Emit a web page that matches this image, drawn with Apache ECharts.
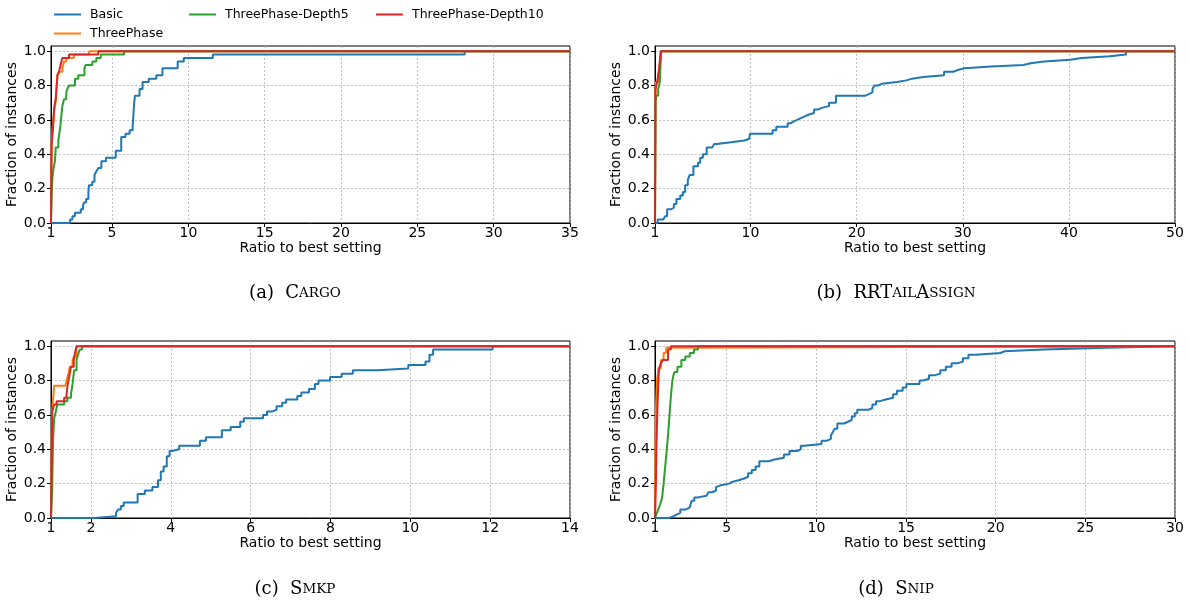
<!DOCTYPE html>
<html>
<head>
<meta charset="utf-8">
<script src="https://cdn.jsdelivr.net/npm/echarts@6/dist/echarts.min.js"></script>
<style>
  html, body { margin: 0; padding: 0; background: #fff; }
  #chart { width: 1189px; height: 603px; }
</style>
</head>
<body>
<div id="chart"></div>
<script>
// series names and colours (matplotlib tab10)
const seriesNames = ['Basic', 'ThreePhase', 'ThreePhase-Depth5', 'ThreePhase-Depth10'];
const seriesColors = ['#1f77b4', '#ff7f0e', '#2ca02c', '#d62728'];

// tick values of each panel
const cargoTicks = [1, 5, 10, 15, 20, 25, 30, 35];
const rrtailTicks = [1, 10, 20, 30, 40, 50];
const smkpTicks = [1, 2, 4, 6, 8, 10, 12, 14];
const snipTicks = [1, 5, 10, 15, 20, 25, 30];
const yTicks = [0, 0.2, 0.4, 0.6, 0.8, 1.0];

// (a) Cargo  -- [ratio, fraction] step points
const cargoBasic = [[1, 0], [2.25, 0.02], [2.4, 0.04], [2.57, 0.06], [2.95, 0.08], [3.1, 0.1], [3.16, 0.12], [3.3, 0.14], [3.45, 0.18], [3.49, 0.22], [3.7, 0.24], [3.85, 0.28], [3.97, 0.3], [4.1, 0.32], [4.3, 0.36], [4.6, 0.38], [5.24, 0.42], [5.6, 0.5], [5.88, 0.52], [6.15, 0.54], [6.35, 0.56], [6.45, 0.7], [6.5, 0.74], [6.8, 0.78], [7.0, 0.82], [7.4, 0.84], [7.9, 0.86], [8.3, 0.9], [9.3, 0.94], [9.7, 0.96], [11.6, 0.98], [28.1, 1.0], [35, 1.0]];
const cargoThree = [[1, 0], [1.03, 0.45], [1.1, 0.55], [1.2, 0.65], [1.3, 0.7], [1.42, 0.86], [1.55, 0.88], [1.75, 0.9], [1.85, 0.94], [2.0, 0.96], [2.5, 0.98], [3.5, 1.0], [35, 1.0]];
const cargoD5 = [[1, 0], [1.05, 0.18], [1.09, 0.26], [1.17, 0.32], [1.26, 0.36], [1.31, 0.44], [1.48, 0.48], [1.61, 0.56], [1.74, 0.68], [1.85, 0.72], [2.0, 0.76], [2.07, 0.78], [2.18, 0.8], [2.57, 0.84], [2.79, 0.86], [3.19, 0.9], [3.27, 0.92], [3.71, 0.94], [3.97, 0.96], [4.26, 0.98], [5.79, 1.0], [35, 1.0]];
const cargoD10 = [[1, 0], [1.04, 0.45], [1.13, 0.55], [1.22, 0.68], [1.31, 0.72], [1.42, 0.86], [1.52, 0.88], [1.63, 0.92], [1.74, 0.96], [2.18, 0.98], [4.1, 1.0], [35, 1.0]];

// (b) RRTailAssign
const rrtailBasic = [[1, 0], [1.25, 0.02], [1.78, 0.03], [1.95, 0.04], [2.14, 0.08], [2.49, 0.09], [2.78, 0.11], [3.02, 0.14], [3.38, 0.16], [3.63, 0.18], [3.84, 0.22], [4.09, 0.25], [4.27, 0.28], [4.62, 0.33], [5.05, 0.35], [5.26, 0.38], [5.51, 0.4], [5.87, 0.44], [6.4, 0.45], [6.58, 0.46], [6.82, 0.47], [8.17, 0.48], [9.42, 0.49], [9.88, 0.5], [9.95, 0.52], [12.08, 0.54], [12.43, 0.56], [13.5, 0.58], [13.78, 0.59], [14.03, 0.6], [14.39, 0.61], [14.74, 0.62], [15.1, 0.63], [15.45, 0.64], [15.99, 0.66], [16.34, 0.67], [16.7, 0.68], [17.4, 0.7], [18.05, 0.74], [20.78, 0.75], [21.14, 0.76], [21.49, 0.78], [21.67, 0.8], [22.02, 0.81], [22.38, 0.82], [23.8, 0.83], [24.69, 0.84], [25.22, 0.85], [26.28, 0.86], [28.24, 0.88], [29.12, 0.89], [29.5, 0.9], [30.19, 0.91], [32.68, 0.92], [35.69, 0.93], [36.4, 0.94], [37.65, 0.95], [40.13, 0.96], [41.2, 0.97], [43.86, 0.98], [45.39, 1.0], [50, 1.0]];
const rrtailThree = [[1, 0], [1.03, 0.76], [1.08, 0.82], [1.3, 0.86], [1.45, 0.92], [1.55, 1.0], [50, 1.0]];
const rrtailD5 = [[1, 0], [1.05, 0.7], [1.1, 0.74], [1.3, 0.78], [1.45, 0.82], [1.58, 1.0], [50, 1.0]];
const rrtailD10 = [[1, 0], [1.05, 0.78], [1.2, 0.82], [1.35, 0.88], [1.45, 0.94], [1.55, 1.0], [50, 1.0]];

// (c) Smkp
const smkpBasic = [[1, 0], [2.1, 0.01], [2.63, 0.03], [2.68, 0.05], [2.75, 0.07], [2.82, 0.09], [3.17, 0.14], [3.35, 0.16], [3.54, 0.18], [3.68, 0.22], [3.75, 0.27], [3.82, 0.3], [3.9, 0.36], [3.97, 0.39], [4.03, 0.4], [4.21, 0.42], [4.73, 0.45], [4.88, 0.47], [5.28, 0.51], [5.5, 0.53], [5.74, 0.56], [5.83, 0.58], [6.31, 0.6], [6.41, 0.62], [6.55, 0.63], [6.65, 0.65], [6.79, 0.67], [6.89, 0.69], [7.17, 0.71], [7.27, 0.73], [7.46, 0.75], [7.61, 0.78], [7.7, 0.8], [7.99, 0.82], [8.28, 0.84], [8.56, 0.86], [9.18, 0.87], [9.95, 0.89], [10.38, 0.91], [10.48, 0.95], [10.57, 0.98], [12.06, 1.0], [14, 1.0]];
const smkpThree = [[1, 0], [1.02, 0.5], [1.03, 0.63], [1.08, 0.77], [1.36, 0.78], [1.39, 0.8], [1.44, 0.84], [1.47, 0.88], [1.54, 0.92], [1.58, 0.94], [1.64, 1.0], [14, 1.0]];
const smkpD5 = [[1, 0], [1.03, 0.17], [1.05, 0.45], [1.08, 0.58], [1.12, 0.62], [1.16, 0.66], [1.33, 0.68], [1.41, 0.7], [1.5, 0.72], [1.54, 0.78], [1.58, 0.86], [1.64, 0.92], [1.69, 0.96], [1.72, 0.98], [1.78, 1.0], [14, 1.0]];
const smkpD10 = [[1, 0], [1.03, 0.62], [1.08, 0.66], [1.14, 0.68], [1.33, 0.7], [1.39, 0.72], [1.42, 0.78], [1.47, 0.84], [1.5, 0.88], [1.57, 0.92], [1.6, 0.96], [1.64, 1.0], [14, 1.0]];

// (d) Snip
const snipBasic = [[1, 0], [1.78, 0.01], [2.05, 0.02], [2.2, 0.03], [2.41, 0.05], [2.72, 0.06], [2.93, 0.07], [3.04, 0.1], [3.19, 0.12], [3.4, 0.13], [3.88, 0.14], [3.98, 0.15], [4.19, 0.16], [4.4, 0.18], [4.51, 0.19], [4.66, 0.2], [5.14, 0.21], [5.29, 0.22], [5.66, 0.23], [5.98, 0.24], [6.19, 0.26], [6.4, 0.28], [6.61, 0.3], [6.82, 0.33], [7.35, 0.34], [7.66, 0.35], [8.19, 0.37], [8.5, 0.39], [8.92, 0.4], [9.13, 0.42], [9.34, 0.43], [10.29, 0.45], [10.6, 0.46], [10.81, 0.48], [10.92, 0.5], [11.02, 0.52], [11.17, 0.55], [11.55, 0.56], [11.76, 0.57], [11.97, 0.59], [12.14, 0.61], [12.28, 0.63], [12.91, 0.64], [13.12, 0.66], [13.33, 0.68], [13.54, 0.69], [13.86, 0.7], [14.28, 0.72], [14.49, 0.74], [14.81, 0.76], [15.02, 0.78], [15.75, 0.8], [15.96, 0.81], [16.28, 0.83], [16.59, 0.84], [16.91, 0.86], [17.22, 0.88], [17.54, 0.9], [17.85, 0.91], [18.17, 0.93], [18.48, 0.95], [18.9, 0.96], [20.27, 0.97], [20.48, 0.98], [22.69, 0.99], [26.15, 1.0], [30, 1.0]];
const snipThree = [[1, 0], [1.02, 0.4], [1.04, 0.6], [1.11, 0.8], [1.2, 0.87], [1.33, 0.92], [1.48, 0.96], [1.62, 0.99], [1.7, 1.0], [30, 1.0]];
const snipD5 = [[1, 0], [1.07, 0.02], [1.18, 0.05], [1.29, 0.08], [1.4, 0.12], [1.48, 0.2], [1.57, 0.3], [1.66, 0.4], [1.74, 0.5], [1.81, 0.6], [1.88, 0.7], [1.95, 0.78], [2.02, 0.83], [2.1, 0.85], [2.25, 0.88], [2.47, 0.92], [2.69, 0.94], [2.94, 0.96], [3.17, 0.98], [3.4, 1.0], [30, 1.0]];
const snipD10 = [[1, 0], [1.05, 0.2], [1.07, 0.36], [1.11, 0.55], [1.17, 0.75], [1.22, 0.87], [1.33, 0.9], [1.44, 0.92], [1.73, 0.98], [1.88, 1.0], [30, 1.0]];

// panel layout
const panels = [
  {grid: {left: 51, top: 46, width: 519, height: 177}, max: 35, ticks: cargoTicks, data: [cargoBasic, cargoThree, cargoD5, cargoD10]},
  {grid: {left: 655, top: 46, width: 520, height: 177}, max: 50, ticks: rrtailTicks, data: [rrtailBasic, rrtailThree, rrtailD5, rrtailD10]},
  {grid: {left: 51, top: 341, width: 519, height: 177}, max: 14, ticks: smkpTicks, data: [smkpBasic, smkpThree, smkpD5, smkpD10]},
  {grid: {left: 655, top: 341, width: 520, height: 177}, max: 30, ticks: snipTicks, data: [snipBasic, snipThree, snipD5, snipD10]}
];

const font = 'DejaVu Sans';
const gridLine = {show: true, lineStyle: {color: '#b0b0b0', width: 0.8, type: [2, 2]}};

const grids = [], xAxes = [], yAxes = [], series = [];
panels.forEach((p, i) => {
  grids.push(Object.assign({show: true, borderColor: '#000', borderWidth: 1, backgroundColor: 'transparent'}, p.grid));
  xAxes.push({
    type: 'value', gridIndex: i, min: 1, max: p.max,
    name: 'Ratio to best setting', nameLocation: 'middle', nameGap: 18,
    nameTextStyle: {fontFamily: font, fontSize: 14, color: '#000'},
    axisLine: {show: true, lineStyle: {color: '#000', width: 1}},
    axisTick: {show: true, length: 4, customValues: p.ticks, lineStyle: {color: '#000'}},
    axisLabel: {customValues: p.ticks, margin: 3, fontFamily: font, fontSize: 14, color: '#000'},
    splitLine: gridLine
  });
  yAxes.push({
    type: 'value', gridIndex: i, min: 0, max: 1.03,
    name: 'Fraction of instances', nameLocation: 'middle', nameGap: 28,
    nameTextStyle: {fontFamily: font, fontSize: 14, color: '#000'},
    axisLine: {show: true, lineStyle: {color: '#000', width: 1}},
    axisTick: {show: true, length: 4, customValues: yTicks, lineStyle: {color: '#000'}},
    axisLabel: {customValues: yTicks, margin: 5, fontFamily: font, fontSize: 14, color: '#000',
      formatter: v => v.toFixed(1)},
    splitLine: gridLine
  });
  p.data.forEach((d, k) => {
    series.push({
      name: seriesNames[k], type: 'line', step: 'end',
      xAxisIndex: i, yAxisIndex: i, data: d,
      showSymbol: false, color: seriesColors[k],
      lineStyle: {width: 2, color: seriesColors[k]},
      z: 2 + k
    });
  });
});

// legend laid out like matplotlib's 3-column legend
const legendPos = [[54, 8], [54, 27], [189, 8], [376, 8]];
const legends = seriesNames.map((n, k) => ({
  data: [n], left: legendPos[k][0], top: legendPos[k][1], padding: 0,
  icon: 'rect', itemWidth: 27, itemHeight: 2,
  textStyle: {fontFamily: font, fontSize: 12.5, color: '#000', padding: [0, 0, 0, 4]}
}));

// sub captions in small caps style
const capRich = {
  n: {fontFamily: 'DejaVu Serif', fontSize: 18, fontWeight: 'normal', color: '#000'},
  s: {fontFamily: 'DejaVu Serif', fontSize: 13.5, fontWeight: 'normal', color: '#000'}
};
const captions = [
  {text: '{n|(a)  C}{s|ARGO}', x: 295, y: 284},
  {text: '{n|(b)  RRT}{s|AIL}{n|A}{s|SSIGN}', x: 896, y: 284},
  {text: '{n|(c)  S}{s|MKP}', x: 295, y: 580},
  {text: '{n|(d)  S}{s|NIP}', x: 896, y: 580}
];
const titles = captions.map(c => ({
  text: c.text, left: c.x, top: c.y, textAlign: 'center', padding: 0,
  textStyle: {fontWeight: 'normal', rich: capRich}
}));

const chart = echarts.init(document.getElementById('chart'), null, {renderer: 'canvas'});
chart.setOption({
  animation: false,
  backgroundColor: '#fff',
  title: titles,
  legend: legends,
  grid: grids,
  xAxis: xAxes,
  yAxis: yAxes,
  series: series
});
</script>
</body>
</html>
